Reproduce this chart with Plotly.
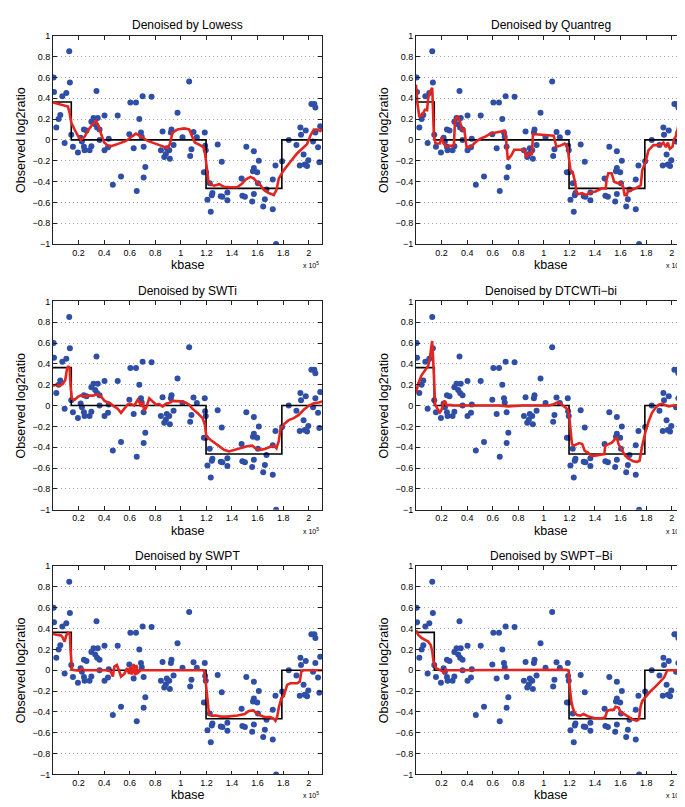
import plotly.graph_objects as go

# ---------------- data (x in units of 1e5 kbase) ----------------
obs_x = [0.005, 0.008, 0.026, 0.044, 0.057, 0.073, 0.091, 0.104, 0.127, 0.132,
         0.143, 0.156, 0.195, 0.216, 0.226, 0.242, 0.242, 0.247, 0.262, 0.286,
         0.300, 0.300, 0.317, 0.330, 0.340, 0.350, 0.345, 0.364, 0.364, 0.403,
         0.403, 0.430, 0.436, 0.468, 0.506, 0.532, 0.597, 0.605, 0.631, 0.649,
         0.655, 0.675, 0.688, 0.694, 0.701, 0.709, 0.709, 0.722, 0.771, 0.844,
         0.857, 0.870, 0.883, 0.890, 0.909, 0.914, 0.922, 0.927, 0.943, 0.974,
         1.013, 1.065, 1.073, 1.083, 1.099, 1.125, 1.187, 1.190, 1.195, 1.180,
         1.197, 1.208, 1.226, 1.234, 1.242, 1.247, 1.288, 1.312, 1.320, 1.325,
         1.364, 1.364, 1.475, 1.481, 1.501, 1.512, 1.558, 1.564, 1.571, 1.571,
         1.571, 1.597, 1.610, 1.603, 1.644, 1.657, 1.670, 1.719, 1.719, 1.740,
         1.745, 1.792, 1.844, 1.904, 1.930, 1.935, 1.940, 1.960, 1.969, 1.977,
         1.987, 1.997, 2.021, 2.034, 2.044, 2.052, 2.052, 2.073, 2.083, 2.090]
obs_y = [0.60, 0.46, 0.12, 0.20, 0.24, 0.42, -0.03, 0.45, 0.85, 0.55,
         0.05, -0.065, -0.12, 0.02, -0.015, 0.10, -0.065, -0.10, 0.09, -0.10,
         -0.06, 0.175, 0.21, 0.15, 0.47, 0.21, 0.12, 0.10, 0.00, 0.235,
         -0.10, -0.07, 0.01, -0.43, 0.235, -0.35, 0.055, 0.36, -0.08, 0.36,
         -0.49, 0.20, 0.07, 0.03, 0.42, -0.065, -0.36, -0.26, 0.415, -0.10,
         0.08, -0.165, -0.135, -0.08, -0.10, -0.18, 0.07, 0.10, -0.05, 0.26,
         0.025, 0.56, -0.155, -0.09, 0.077, 0.025, 0.07, -0.055, -0.10, -0.31,
         -0.31, -0.575, -0.415, -0.69, -0.53, -0.51, -0.045, -0.54, -0.21, -0.545,
         -0.505, -0.58, -0.37, -0.535, -0.545, -0.065, -0.59, -0.30, -0.27, -0.11,
         -0.52, -0.31, -0.20, -0.415, -0.64, -0.57, -0.475, -0.665, -0.38, -0.245,
         -1.00, -0.205, 0.00, -0.05, -0.245, 0.12, 0.05, -0.14, -0.235, 0.09,
         -0.25, -0.195, 0.345, -0.015, 0.345, 0.31, 0.07, -0.07, -0.215, 0.13]

truth_x = [0.0, 0.143, 1.197, 1.790, 2.104]
truth_y = [0.364, 0.0, -0.465, 0.0, 0.0]

lowess_x = [0.0, 0.04, 0.09, 0.117, 0.13, 0.143, 0.169, 0.195, 0.22, 0.247, 0.273, 0.30,
            0.32, 0.338, 0.356, 0.377, 0.40, 0.43, 0.455, 0.494, 0.532, 0.571, 0.61,
            0.649, 0.675, 0.70, 0.74, 0.79, 0.844, 0.896, 0.914, 0.935, 0.974, 1.026,
            1.065, 1.086, 1.109, 1.143, 1.177, 1.19, 1.203, 1.216, 1.234, 1.26, 1.299,
            1.338, 1.39, 1.44, 1.48, 1.506, 1.545, 1.571, 1.597, 1.623, 1.65, 1.688,
            1.727, 1.748, 1.766, 1.805, 1.857, 1.909, 1.961, 1.987, 2.013, 2.04, 2.065,
            2.09, 2.104]
lowess_y = [0.36, 0.345, 0.33, 0.32, 0.26, 0.165, 0.10, 0.04, 0.0, 0.03, 0.09, 0.13,
            0.165, 0.18, 0.135, 0.055, -0.025, -0.055, -0.06, -0.045, -0.025, -0.01, 0.025,
            0.06, 0.04, 0.025, -0.01, -0.035, -0.055, -0.08, -0.04, 0.07, 0.10, 0.11,
            0.10, 0.04, -0.025, -0.045, -0.07, -0.135, -0.29, -0.40, -0.43, -0.44, -0.425,
            -0.45, -0.455, -0.455, -0.42, -0.38, -0.355, -0.37, -0.41, -0.435, -0.48, -0.51,
            -0.53, -0.48, -0.37, -0.29, -0.21, -0.13, -0.07, -0.04, 0.04, 0.10, 0.10,
            0.085, 0.10]

quant_x = [0.0, 0.01, 0.025, 0.048, 0.07, 0.087, 0.095, 0.108, 0.127, 0.134, 0.14, 0.153,
           0.187, 0.20, 0.218, 0.242, 0.265, 0.287, 0.297, 0.305, 0.326, 0.344, 0.357,
           0.378, 0.396, 0.43, 0.462, 0.50, 0.54, 0.58, 0.62, 0.67, 0.692, 0.703, 0.718,
           0.745, 0.768, 0.80, 0.846, 0.862, 0.885, 0.907, 0.915, 0.933, 0.986, 1.033,
           1.077, 1.098, 1.13, 1.163, 1.187, 1.195, 1.208, 1.226, 1.247, 1.255, 1.273,
           1.30, 1.33, 1.364, 1.403, 1.457, 1.484, 1.49, 1.504, 1.53, 1.55, 1.574, 1.60,
           1.62, 1.632, 1.648, 1.66, 1.687, 1.718, 1.758, 1.77, 1.796, 1.818, 1.857,
           1.888, 1.914, 1.935, 1.955, 1.97, 1.985, 2.006, 2.018, 2.031, 2.052, 2.068,
           2.078, 2.09, 2.10]
quant_y = [0.53, 0.36, 0.23, 0.235, 0.29, 0.285, 0.395, 0.46, 0.50, 0.275, 0.04, -0.035,
           -0.035, 0.025, -0.04, -0.065, -0.055, -0.06, -0.04, 0.195, 0.22, 0.18, 0.10,
           0.10, -0.07, -0.065, -0.025, 0.01, 0.03, 0.06, 0.07, 0.077, 0.087, 0.025, -0.19,
           -0.15, -0.095, -0.095, -0.095, -0.165, -0.13, -0.135, 0.055, 0.055, 0.05, 0.04,
           0.04, -0.065, -0.055, -0.035, -0.07, -0.165, -0.29, -0.31, -0.42, -0.51, -0.52,
           -0.51, -0.53, -0.505, -0.495, -0.465, -0.465, -0.385, -0.32, -0.32, -0.40, -0.415, -0.41,
           -0.45, -0.53, -0.53, -0.48, -0.48, -0.465, -0.435, -0.29, -0.21, -0.10, -0.05,
           -0.05, -0.05, -0.025, -0.07, -0.025, -0.085, -0.065, 0.008, 0.03, 0.135, 0.21,
           0.07, 0.008, -0.015]

swti_x = [0.0, 0.026, 0.052, 0.078, 0.096, 0.109, 0.12, 0.13, 0.138, 0.148, 0.169, 0.195,
          0.22, 0.242, 0.273, 0.312, 0.35, 0.377, 0.403, 0.44, 0.48, 0.506, 0.532, 0.558,
          0.584, 0.61, 0.636, 0.662, 0.68, 0.688, 0.70, 0.714, 0.73, 0.753, 0.779, 0.805,
          0.831, 0.857, 0.883, 0.909, 0.935, 0.96, 1.0, 1.04, 1.065, 1.09, 1.13, 1.17,
          1.187, 1.20, 1.208, 1.234, 1.26, 1.30, 1.338, 1.377, 1.416, 1.468, 1.519, 1.558,
          1.584, 1.623, 1.662, 1.70, 1.727, 1.748, 1.766, 1.779, 1.805, 1.844, 1.883,
          1.922, 1.961, 2.0, 2.04, 2.078, 2.104]
swti_y = [0.19, 0.20, 0.19, 0.21, 0.245, 0.35, 0.38, 0.355, 0.18, 0.065, 0.055, 0.085,
          0.10, 0.085, 0.095, 0.095, 0.11, 0.085, 0.045, 0.025, -0.01, -0.03, -0.07, -0.03,
          0.01, 0.015, 0.0, 0.055, 0.025, -0.01, 0.035, -0.05, -0.015, 0.07, 0.04, 0.01,
          0.015, -0.01, 0.017, 0.025, 0.045, 0.045, 0.04, 0.027, 0.008, -0.03, -0.07, -0.12,
          -0.18, -0.30, -0.305, -0.33, -0.355, -0.385, -0.425, -0.44, -0.425, -0.41, -0.39, -0.385,
          -0.41, -0.425, -0.415, -0.395, -0.385, -0.41, -0.34, -0.23, -0.18, -0.14, -0.12,
          -0.09, -0.04, -0.002, 0.023, 0.03, 0.04]

dtcwt_x = [0.0, 0.017, 0.043, 0.069, 0.095, 0.108, 0.12, 0.126, 0.134, 0.142, 0.15, 0.168,
           0.187, 0.20, 0.213, 0.226, 0.24, 0.265, 0.29, 0.33, 0.41, 0.515, 0.645, 0.723,
           0.83, 0.96, 1.04, 1.077, 1.11, 1.142, 1.168, 1.19, 1.20, 1.208, 1.22, 1.233,
           1.26, 1.277, 1.30, 1.32, 1.345, 1.37, 1.40, 1.44, 1.473, 1.48, 1.506, 1.532,
           1.558, 1.57, 1.584, 1.61, 1.636, 1.662, 1.70, 1.728, 1.749, 1.767, 1.793, 1.82,
           1.846, 1.872, 1.898, 1.924, 1.95, 1.977, 2.016, 2.08, 2.10]
dtcwt_y = [0.12, 0.21, 0.29, 0.34, 0.38, 0.45, 0.56, 0.62, 0.45, 0.165, 0.008, -0.03,
           -0.065, -0.04, 0.024, 0.046, 0.0, 0.008, 0.0, 0.0, 0.0, 0.0, 0.0, -0.008,
           0.0, 0.0, 0.0, 0.013, 0.033, 0.008, -0.017, -0.04, -0.12, -0.245, -0.37, -0.385,
           -0.37, -0.36, -0.37, -0.435, -0.45, -0.48, -0.48, -0.475, -0.465, -0.385, -0.37, -0.355,
           -0.32, -0.305, -0.37, -0.42, -0.48, -0.51, -0.535, -0.54, -0.53, -0.40, -0.26, -0.15,
           -0.07, -0.024, 0.008, 0.017, 0.008, -0.008, 0.0, 0.0, 0.0]

swpt_x = [0.0, 0.026, 0.06, 0.073, 0.091, 0.104, 0.117, 0.132, 0.138, 0.148, 0.169, 0.208,
          0.226, 0.247, 0.325, 0.43, 0.45, 0.468, 0.48, 0.50, 0.514, 0.532, 0.558, 0.58,
          0.595, 0.605, 0.616, 0.631, 0.642, 0.652, 0.662, 0.688, 0.948, 1.18, 1.19, 1.20,
          1.208, 1.22, 1.239, 1.273, 1.312, 1.364, 1.442, 1.50, 1.532, 1.567, 1.584, 1.623,
          1.662, 1.701, 1.727, 1.74, 1.753, 1.766, 1.787, 1.805, 1.831, 1.857, 1.909, 1.93,
          1.943, 1.961, 2.104]
swpt_y = [0.35, 0.34, 0.335, 0.32, 0.275, 0.335, 0.36, 0.35, 0.18, 0.005, 0.0, -0.005,
          0.015, 0.0, 0.0, 0.0, -0.01, -0.06, 0.035, 0.05, 0.005, -0.06, -0.035, 0.02,
          -0.035, 0.035, -0.04, 0.06, -0.05, 0.05, -0.025, 0.0, 0.0, 0.0, -0.06, -0.20,
          -0.295, -0.42, -0.435, -0.435, -0.445, -0.445, -0.435, -0.42, -0.39, -0.385, -0.405, -0.435,
          -0.45, -0.45, -0.465, -0.485, -0.45, -0.36, -0.265, -0.25, -0.14, -0.125, -0.125, -0.11,
          -0.01, 0.0, 0.0]

swptbi_x = [0.0, 0.017, 0.043, 0.069, 0.095, 0.116, 0.127, 0.137, 0.148, 0.163, 0.187, 0.208,
            0.218, 0.23, 0.25, 0.38, 0.645, 1.04, 1.18, 1.195, 1.20, 1.215, 1.226, 1.24,
            1.26, 1.285, 1.31, 1.35, 1.40, 1.457, 1.48, 1.495, 1.52, 1.547, 1.56, 1.586,
            1.60, 1.626, 1.66, 1.692, 1.726, 1.744, 1.757, 1.77, 1.796, 1.835, 1.875, 1.914,
            1.94, 1.966, 2.10]
swptbi_y = [0.385, 0.34, 0.31, 0.29, 0.275, 0.24, 0.18, 0.085, 0.035, 0.015, 0.005, -0.01,
            -0.025, 0.005, 0.0, 0.0, 0.0, 0.0, 0.005, -0.01, -0.135, -0.295, -0.36, -0.405,
            -0.43, -0.435, -0.42, -0.445, -0.46, -0.46, -0.45, -0.39, -0.38, -0.38, -0.35, -0.36,
            -0.405, -0.42, -0.445, -0.47, -0.485, -0.47, -0.345, -0.295, -0.255, -0.20, -0.155, -0.105,
            -0.07, 0.0, 0.0]

titles = ["Denoised by Lowess", "Denoised by Quantreg", "Denoised by SWTi",
          "Denoised by DTCWTi\u2212bi", "Denoised by SWPT", "Denoised by SWPT\u2212Bi"]
fits = [(lowess_x, lowess_y), (quant_x, quant_y), (swti_x, swti_y),
        (dtcwt_x, dtcwt_y), (swpt_x, swpt_y), (swptbi_x, swptbi_y)]

x_ticks = [0.2, 0.4, 0.6, 0.8, 1.0, 1.2, 1.4, 1.6, 1.8, 2.0]
x_ticktext = ["0.2", "0.4", "0.6", "0.8", "1", "1.2", "1.4", "1.6", "1.8", "2"]
y_ticks = [-1, -0.8, -0.6, -0.4, -0.2, 0, 0.2, 0.4, 0.6, 0.8, 1]
y_ticktext = ["\u22121", "\u22120.8", "\u22120.6", "\u22120.4", "\u22120.2", "0",
              "0.2", "0.4", "0.6", "0.8", "1"]

# ---------------- layout geometry ----------------
W, H = 685, 807
col_px = [(45, 314), (408, 677)]
row_px = [(23, 234), (292, 503), (560, 771)]

FONT = "Liberation Sans, Arial, Helvetica, sans-serif"
BLUE = "#2f4ea6"
RED = "#e3241f"

fig = go.Figure()
annotations = []
for i in range(6):
    r, c = divmod(i, 2)
    xa = "x" if i == 0 else f"x{i+1}"
    ya = "y" if i == 0 else f"y{i+1}"
    fx, fy = fits[i]
    fig.add_trace(go.Scatter(x=obs_x, y=obs_y, mode="markers", xaxis=xa, yaxis=ya,
                             marker=dict(color=BLUE, size=6), showlegend=False))
    fig.add_trace(go.Scatter(x=truth_x, y=truth_y, mode="lines", line_shape="hv",
                             xaxis=xa, yaxis=ya, line=dict(color="black", width=1.6),
                             showlegend=False))
    fig.add_trace(go.Scatter(x=fx, y=fy, mode="lines", xaxis=xa, yaxis=ya,
                             line=dict(color=RED, width=2.6), showlegend=False))

    x0, x1 = col_px[c]
    y0, y1 = row_px[r]
    xd = [x0 / W, x1 / W]
    yd = [1 - y1 / H, 1 - y0 / H]
    axis_common = dict(showline=True, linecolor="#222222", linewidth=0.8, mirror="ticks",
                       ticks="inside", ticklen=4, tickcolor="#222222", tickwidth=0.8,
                       tickfont=dict(family=FONT, size=9, color="black"), zeroline=False)
    fig.layout[("xaxis" if i == 0 else f"xaxis{i+1}")] = dict(
        domain=xd, anchor=ya, range=[0, 2.104], tickvals=x_ticks, ticktext=x_ticktext,
        showgrid=False, **axis_common)
    fig.layout[("yaxis" if i == 0 else f"yaxis{i+1}")] = dict(
        domain=yd, anchor=xa, range=[-1, 1], tickvals=y_ticks, ticktext=y_ticktext,
        showgrid=True, gridcolor="#a8a8a8", griddash="1px,3px", gridwidth=1, **axis_common)

    cx = (x0 + x1) / 2 / W
    annotations.append(dict(text=titles[i], x=cx, y=1 - (y0 - 10.5) / H, xref="paper", yref="paper",
                            showarrow=False, font=dict(family=FONT, size=12, color="black"),
                            xanchor="center", yanchor="middle"))
    annotations.append(dict(text="kbase", x=cx, y=1 - (y1 + 21) / H, xref="paper", yref="paper",
                            showarrow=False, font=dict(family=FONT, size=12.5, color="black"),
                            xanchor="center", yanchor="middle"))
    annotations.append(dict(text="Observed log2ratio", x=(x0 - 32) / W, y=1 - ((y0 + y1) / 2) / H,
                            xref="paper", yref="paper", textangle=-90, showarrow=False,
                            font=dict(family=FONT, size=12.5, color="black"),
                            xanchor="center", yanchor="middle"))
    annotations.append(dict(text="x 10<sup>5</sup>", x=(x1 - 1) / W, y=1 - (y1 + 21) / H,
                            xref="paper", yref="paper", showarrow=False,
                            font=dict(family=FONT, size=7, color="black"),
                            xanchor="right", yanchor="middle"))

fig.update_layout(width=W, height=H, margin=dict(l=0, r=0, t=0, b=0),
                  paper_bgcolor="white", plot_bgcolor="white",
                  annotations=annotations, showlegend=False)
fig.write_html("out.html")
